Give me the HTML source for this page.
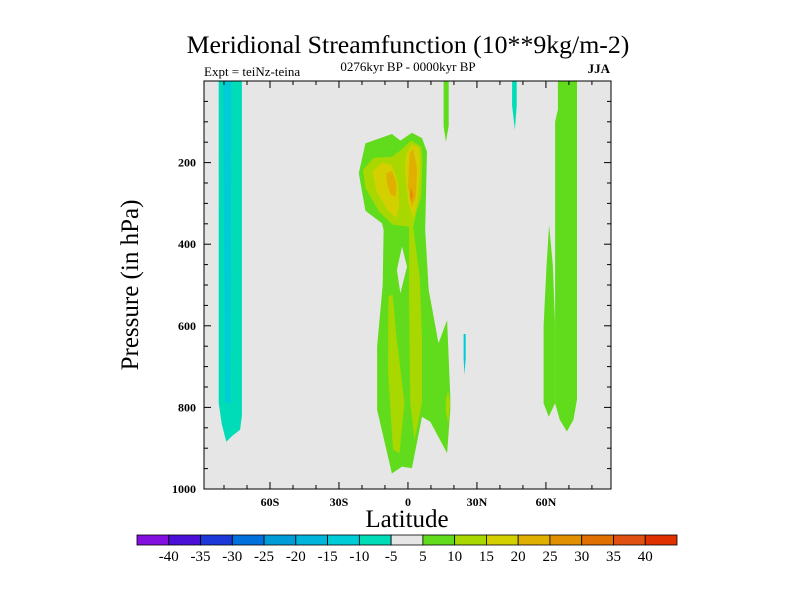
<!DOCTYPE html>
<html><head><meta charset="utf-8"><style>
body{margin:0;background:#fff;}
svg{display:block;font-family:"Liberation Serif",serif;}
</style></head><body>
<svg id="chart" width="800" height="600" viewBox="0 0 800 600" xmlns="http://www.w3.org/2000/svg">
<text x="408" y="53" font-size="25.8" text-anchor="middle">Meridional Streamfunction (10**9kg/m-2)</text>
<text x="408" y="71" font-size="13" text-anchor="middle">0276kyr BP - 0000kyr BP</text>
<text x="204" y="76" font-size="13">Expt = teiNz-teina</text>
<text x="610" y="73" font-size="13" font-weight="bold" text-anchor="end">JJA</text>
<g id="plot"></g>
<g id="axes"></g>
<text transform="translate(138,285) rotate(-90)" font-size="25" text-anchor="middle">Pressure (in hPa)</text>
<text x="407" y="527" font-size="25" text-anchor="middle">Latitude</text>
<g id="cbar"></g>
</svg>
<script>
const latTicks=[-60,-30,0,30,60];
const latTickLabels=["60S","30S","0","30N","60N"];
const presTicks=[200,400,600,800,1000];
const levels=[-40,-35,-30,-25,-20,-15,-10,-5,5,10,15,20,25,30,35,40];
const levelColors=["#8410e0","#4a10d8","#1c38d8","#0070dc","#009cd8","#00b4dc","#00ccd8","#00dcb8","#e6e6e6","#60dc1c","#a8d800","#d4d000","#e0b000","#e09000","#e07000","#e05010","#e03000"];
// contour regions: level index into levelColors, and polygon [lat, pressure]
const regionLevels=[7,6,9,9,9,9,8,10,10,10,11,11,12,12,13,7,9,6];
const regionShapes=[
 [[-82.3,0],[-72.2,0],[-72.2,820],[-73,855],[-76.5,870],[-79,884],[-81,840],[-82.3,790]],
 [[-80.4,0],[-76.8,0],[-77.2,790],[-79.5,790]],
 [[-21.4,226],[-18.5,153],[-7,130],[-3.3,146],[1.7,127],[6.1,140],[8.3,173],[7.5,365],[9,512],[13.3,643],[17,586],[18.4,774],[18.4,806],[17,912],[9.7,835],[6.1,823],[1.7,949],[-2.6,945],[-7,962],[-13.4,806],[-13.4,651],[-11,500],[-10.6,365],[-11.3,349],[-18.5,318]],
 [[65.2,0],[73.5,0],[73.5,780],[72,830],[69.1,859],[66,830],[64,790],[64,100],[65.2,70]],
 [[61.4,353],[63,450],[64,600],[64,790],[61.2,823],[59,790],[59,600],[60.3,450]],
 [[15.5,0],[17.7,0],[17.7,110],[16.5,149],[15.5,110]],
 [[-2.6,406],[-0.4,455],[-3.3,520],[-4.8,463]],
 [[-19.5,218],[-15,188],[-7,186],[-3.3,170],[1.4,146],[5.8,161],[6.3,194],[5.8,283],[3.6,324],[2.3,357],[5.1,480],[6.1,627],[6.1,790],[2.9,880],[1,790],[0.5,545],[0.5,357],[-6.7,352],[-12.6,320],[-18.5,262]],
 [[-8.5,528],[-6.7,524],[-5,627],[-1.5,790],[-3.7,912],[-6.5,904],[-8.7,708]],
 [[16.5,780],[17.5,760],[18.4,790],[17.5,840],[16.5,810]],
 [[-15.5,222],[-11.2,200],[-7,206],[-4.3,250],[-3.8,300],[-4.8,335],[-8.3,320],[-13.6,272]],
 [[-0.8,180],[1.7,155],[4.8,165],[5.4,210],[4.1,300],[2.5,335],[0.2,300],[-1.4,215]],
 [[-9.5,226],[-7,220],[-5,251],[-5.3,283],[-7.7,278],[-9,253]],
 [[0.7,177],[2.3,166],[4,218],[3.4,285],[1.7,310],[0,259]],
 [[1.5,260],[2.4,280],[1.5,297],[0.7,280]],
 [[45.3,0],[47.3,0],[47.3,60],[46.5,120],[45.3,60]],
 [[16.5,0],[17.2,0],[17.2,100],[16.8,120],[16.5,100]],
 [[24.2,620],[25.1,620],[25.1,680],[24.6,720],[24.2,680]]
];
const NS="http://www.w3.org/2000/svg";
const L=204,R=611,T=81,B=489,latMin=-88.7,latMax=88.3;
function xs(lat){return L+(lat-latMin)/(latMax-latMin)*(R-L);}
function ys(p){return T+p/1000*(B-T);}
function mk(tag,attrs,parent){const e=document.createElementNS(NS,tag);for(const k in attrs)e.setAttribute(k,attrs[k]);parent.appendChild(e);return e;}
const plot=document.getElementById('plot');
const bg=mk('rect',{x:L,y:T,width:R-L,height:B-T,fill:'#e6e6e6'},plot);


const cp=mk('clipPath',{id:'clp'},plot);mk('rect',{x:L,y:T,width:R-L,height:B-T},cp);
const g=mk('g',{'clip-path':'url(#clp)'},plot);
regionShapes.forEach((sh,i)=>{
 const pts=sh.map(q=>xs(q[0]).toFixed(1)+','+ys(q[1]).toFixed(1)).join(' ');
 const pg=mk('polygon',{points:pts,fill:levelColors[regionLevels[i]]},g);
 
 
});
const ax=document.getElementById('axes');
mk('rect',{x:L,y:T,width:R-L,height:B-T,fill:'none',stroke:'#000','stroke-width':1},ax);
for(let lat=-80;lat<=80;lat+=10){
 const x=xs(lat),maj=lat%30===0;const len=maj?7:4;
 mk('line',{x1:x,x2:x,y1:B,y2:B-len,stroke:'#000'},ax);
 mk('line',{x1:x,x2:x,y1:T,y2:T+len,stroke:'#000'},ax);
}
latTicks.forEach((lat,i)=>{
 const t=mk('text',{x:xs(lat),y:B+17,'font-size':12,'font-weight':'bold','text-anchor':'middle'},ax);
 t.textContent=latTickLabels[i];
 
 
});
for(let p=50;p<1000;p+=50){
 const y=ys(p),maj=p%200===0;const len=maj?7:4;
 mk('line',{x1:L,x2:L+len,y1:y,y2:y,stroke:'#000'},ax);
 mk('line',{x1:R,x2:R-len,y1:y,y2:y,stroke:'#000'},ax);
}
presTicks.forEach(p=>{
 const t=mk('text',{x:L-8,y:ys(p)+4,'font-size':12,'font-weight':'bold','text-anchor':'end'},ax);
 t.textContent=p;
 
 
});
const cb=document.getElementById('cbar');
const cbL=137,cbR=677,cbT=535,cbB=545,bw=(cbR-cbL)/levelColors.length;
levelColors.forEach((c,i)=>{
 const r=mk('rect',{x:cbL+i*bw,y:cbT,width:bw,height:cbB-cbT,fill:c,stroke:'#000','stroke-width':0.8},cb);
 
 
});
levels.forEach((v,i)=>{
 const t=mk('text',{x:cbL+(i+1)*bw,y:cbB+16,'font-size':15,'text-anchor':'middle'},cb);
 t.textContent=v;
 
 
});
</script>
</body></html>
